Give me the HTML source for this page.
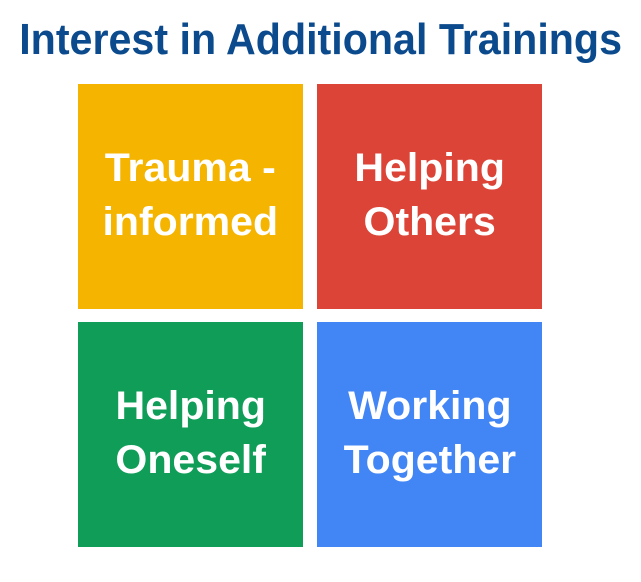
<!DOCTYPE html>
<html><head><style>
body{margin:0;width:641px;height:582px;background:#fff;position:relative;overflow:hidden;font-family:"Liberation Sans",sans-serif;font-weight:bold}
.t{position:absolute;left:0;width:641px;top:17px;text-align:center;color:#0b4a8c;font-size:40px;line-height:46px;white-space:nowrap}
.t span{display:inline-block;transform:scaleX(1.03) scaleY(1.08)}
.b{position:absolute;width:225px;height:225px;color:#fff;display:flex;align-items:center;justify-content:center;text-align:center;font-size:38px;line-height:51px;white-space:nowrap}
.b span{display:inline-block;transform:translateY(-1px) scaleX(1.08) scaleY(1.06)}
</style></head><body>
<div class="t"><span>Interest in Additional Trainings</span></div>
<div class="b" style="left:78px;top:84px;background:#f4b400"><span>Trauma -<br>informed</span></div>
<div class="b" style="left:317px;top:84px;background:#db4437"><span>Helping<br>Others</span></div>
<div class="b" style="left:78px;top:322px;background:#0f9d58"><span>Helping<br>Oneself</span></div>
<div class="b" style="left:317px;top:322px;background:#4285f4"><span>Working<br>Together</span></div>
</body></html>
